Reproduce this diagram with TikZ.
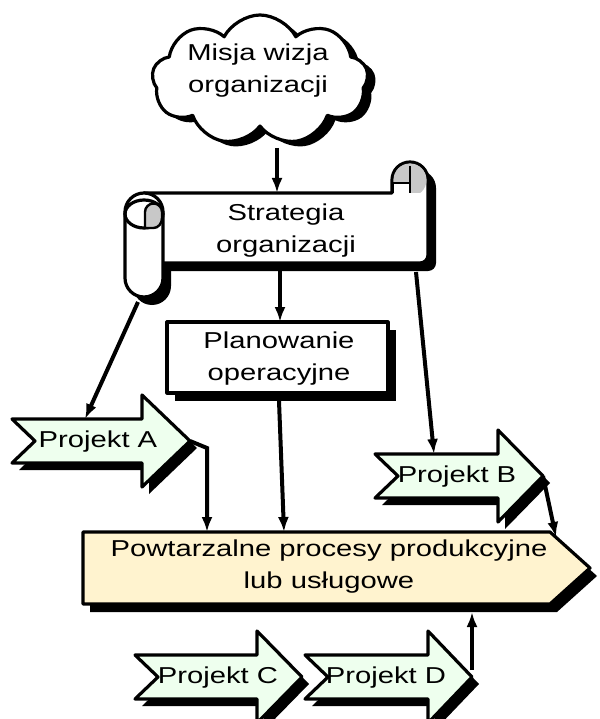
\documentclass[tikz,border=0pt]{standalone}
\usepackage{fontspec}
\setmainfont[FakeStretch=1.27]{Liberation Sans}
\usetikzlibrary{shapes.symbols,shadows,arrows.meta}
\definecolor{projfill}{HTML}{EEFFEE}
\definecolor{procfill}{HTML}{FFF3CF}
\definecolor{curlgray}{HTML}{C8C8C8}
\newcommand\projshape[4]{(#1,#4-22) -- (#2,#4-22) -- (#2,#4-46) -- (#3,#4) -- (#2,#4+46) -- (#2,#4+22) -- (#1,#4+22) -- (#1+23,#4) -- cycle}
\newcommand\scrollbody{(144,193) -- (392,193) -- (392,180) arc[start angle=180,end angle=360,radius=18] -- (428,255) arc[start angle=0,end angle=90,radius=8] -- (144,263) -- cycle}
\newcommand\scrollroll{(125,212) arc[start angle=180,end angle=360,radius=19] -- (163,278) arc[start angle=0,end angle=180,radius=19] -- cycle}
\newcommand\procshape{(83,532) -- (550,532) -- (590,568) -- (550,604) -- (83,604) -- cycle}
\begin{document}
\begin{tikzpicture}[x=1pt,y=-1pt,
  lbl/.style={font=\fontsize{23}{32}\selectfont, align=center, inner sep=0pt},
  outl/.style={draw=black, line width=3.2pt, line join=round},
  shad/.style={fill=black},
  conn/.style={draw=black, line width=4pt, -{Latex[length=15pt,width=11pt]}},
]
\useasboundingbox (0,0) rectangle (599,719);

% ---- cloud
\node[cloud, cloud puffs=9, cloud puff arc=125, aspect=1.6,
      minimum width=216pt, minimum height=130pt, outl, fill=white,
      drop shadow={fill=black, opacity=1, shadow xshift=8pt, shadow yshift=-5pt}]
      (cloud) at (260,80) {};
\node[lbl] (cloudtxt) at (258,71) {Misja wizja\\organizacji};

% ---- scroll
\fill[shad, shift={(8,8)}] \scrollbody;
\fill[shad, shift={(8,8)}] \scrollroll;
\filldraw[fill=white, outl] \scrollbody;
\begin{scope}
  \clip (380,150) rectangle (430,193);
  \fill[curlgray] (410,180) circle[radius=16.5];
\end{scope}
\filldraw[fill=white, draw=black, line width=2.4pt] (393,193) -- (393,183) -- (410,183) -- (410,193);
\draw[black, line width=2.4pt] (410,166) -- (410,193);
\filldraw[fill=white, outl] \scrollroll;
\draw[outl] (144,214) ellipse[x radius=19, y radius=14];
\filldraw[fill=curlgray, draw=black, line width=2.4pt] (145,228) -- (145,212) arc[start angle=180,end angle=360,radius=8.5] -- (162,218) arc[start angle=0,end angle=90,x radius=8.5,y radius=10] -- cycle;
\node[lbl] (scrolltxt) at (286,231) {Strategia\\organizacji};

% ---- planowanie
\fill[shad] (175,330) rectangle (396,401);
\filldraw[fill=white, outl] (167,322) rectangle (388,393);
\node[lbl] (plantxt) at (279,359) {Planowanie\\operacyjne};

% ---- process
\fill[shad, shift={(7,8)}] \procshape;
\filldraw[fill=procfill, outl] \procshape;
\node[lbl] (proctxt) at (329,567) {Powtarzalne procesy produkcyjne\\lub usługowe};

% ---- projects
\fill[shad, shift={(7,7)}] \projshape{12}{142}{190}{441};
\filldraw[fill=projfill, outl] \projshape{12}{142}{190}{441};
\node[lbl] (ptA) at (98,442) {Projekt A};

\fill[shad, shift={(7,7)}] \projshape{375}{498}{543}{476};
\filldraw[fill=projfill, outl] \projshape{375}{498}{543}{476};
\node[lbl] (ptB) at (457,477) {Projekt B};

\fill[shad, shift={(7,7)}] \projshape{135}{257}{302}{677};
\filldraw[fill=projfill, outl] \projshape{135}{257}{302}{677};
\node[lbl] (ptC) at (218,678) {Projekt C};

\fill[shad, shift={(7,7)}] \projshape{305}{428}{472}{677};
\filldraw[fill=projfill, outl] \projshape{305}{428}{472}{677};
\node[lbl] (ptD) at (386,678) {Projekt D};

% ---- connector points
\coordinate (cloudout) at (277,148);
\coordinate (scrolltop) at (277,193);
\coordinate (scrollbot) at (280,271);
\coordinate (plantop) at (280,322);
\coordinate (rollbot) at (138,302);
\coordinate (Atop) at (85,419);
\coordinate (scrollright) at (416,272);
\coordinate (Btop) at (434,454);
\coordinate (Atip) at (190,441);
\coordinate (Abend) at (207,448);
\coordinate (procA) at (207,532);
\coordinate (planbot) at (279,401);
\coordinate (procP) at (284,532);
\coordinate (Btip) at (543,476);
\coordinate (procB) at (556,537);
\coordinate (Dtip) at (472,670);
\coordinate (procD) at (472,612);

\draw[conn] (cloudout) -- (scrolltop);
\draw[conn] (scrollbot) -- (plantop);
\draw[conn] (rollbot) -- (Atop);
\draw[conn] (scrollright) -- (Btop);
\draw[conn] (Atip) -- (Abend) -- (procA);
\draw[conn] (planbot) -- (procP);
\draw[conn] (Btip) -- (procB);
\draw[conn] (Dtip) -- (procD);
\end{tikzpicture}
\end{document}
